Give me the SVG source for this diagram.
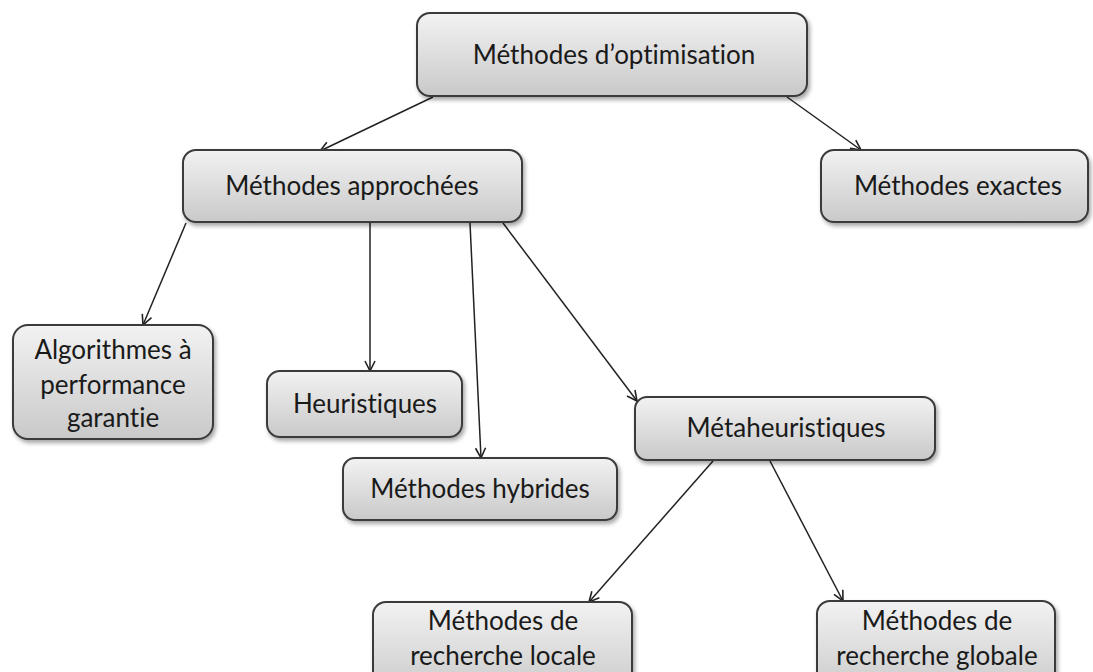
<svg xmlns="http://www.w3.org/2000/svg" width="1093" height="672" viewBox="0 0 1093 672">
  <defs>
    <linearGradient id="g" x1="0" y1="0" x2="0" y2="1">
      <stop offset="0" stop-color="#f2f2f2"/>
      <stop offset="1" stop-color="#c9c9c9"/>
    </linearGradient>
    <filter id="sh" x="-10%" y="-10%" width="125%" height="135%">
      <feDropShadow dx="2" dy="3" stdDeviation="2" flood-color="#000" flood-opacity="0.35"/>
    </filter>
    <marker id="arr" markerUnits="userSpaceOnUse" markerWidth="14" markerHeight="14" refX="11" refY="6" orient="auto" viewBox="0 0 14 12">
      <path d="M1,1 L11,6 L1,11" fill="none" stroke="#222" stroke-width="1.6"/>
    </marker>
  </defs>
  <style>
    .box { fill: url(#g); stroke: #3a3a3a; stroke-width: 2; filter: url(#sh); }
    .t { font-family: Lato, "Open Sans", sans-serif; font-size: 26px; fill: #1a1a1a; text-anchor: middle; font-variant-ligatures: none; font-feature-settings: "liga" 0; }
    .c { stroke: #222; stroke-width: 1.5; fill: none; marker-end: url(#arr); }
  </style>
  <rect width="1093" height="672" fill="#ffffff"/>

  <g id="connectors">
    <line class="c" x1="433" y1="97" x2="320" y2="151"/>
    <line class="c" x1="787" y1="97" x2="861" y2="150"/>
    <line class="c" x1="186" y1="223" x2="143" y2="325"/>
    <line class="c" x1="370" y1="223" x2="370" y2="371"/>
    <line class="c" x1="470" y1="223" x2="481" y2="458"/>
    <line class="c" x1="503" y1="223" x2="637" y2="401"/>
    <line class="c" x1="713" y1="461" x2="589" y2="602"/>
    <line class="c" x1="770" y1="461" x2="843" y2="601"/>
  </g>

  <g id="n-optimisation">
    <rect class="box" x="417" y="13" width="390" height="83" rx="13"/>
    <text class="t" x="614" y="64">Méthodes d’optimisation</text>
  </g>
  <g id="n-approchees">
    <rect class="box" x="183" y="150" width="339" height="72" rx="13"/>
    <text class="t" x="352" y="195">Méthodes approchées</text>
  </g>
  <g id="n-exactes">
    <rect class="box" x="821" y="150" width="267" height="72" rx="13"/>
    <text class="t" x="958" y="195">Méthodes exactes</text>
  </g>
  <g id="n-algorithmes">
    <rect class="box" x="13" y="325" width="200" height="114" rx="15"/>
    <text class="t" x="113" y="359">Algorithmes à</text>
    <text class="t" x="113" y="394">performance</text>
    <text class="t" x="113" y="427">garantie</text>
  </g>
  <g id="n-heuristiques">
    <rect class="box" x="267" y="371" width="195" height="66" rx="13"/>
    <text class="t" x="365" y="413">Heuristiques</text>
  </g>
  <g id="n-hybrides">
    <rect class="box" x="343" y="458" width="274" height="62" rx="12"/>
    <text class="t" x="480" y="498">Méthodes hybrides</text>
  </g>
  <g id="n-metaheuristiques">
    <rect class="box" x="635" y="397" width="300" height="63" rx="12"/>
    <text class="t" x="786" y="437">Métaheuristiques</text>
  </g>
  <g id="n-locale">
    <rect class="box" x="373" y="602" width="259" height="95" rx="13"/>
    <text class="t" x="503" y="630">Méthodes de</text>
    <text class="t" x="503" y="665">recherche locale</text>
  </g>
  <g id="n-globale">
    <rect class="box" x="817" y="601" width="238" height="95" rx="13"/>
    <text class="t" x="937" y="630">Méthodes de</text>
    <text class="t" x="937" y="665">recherche globale</text>
  </g>
</svg>
